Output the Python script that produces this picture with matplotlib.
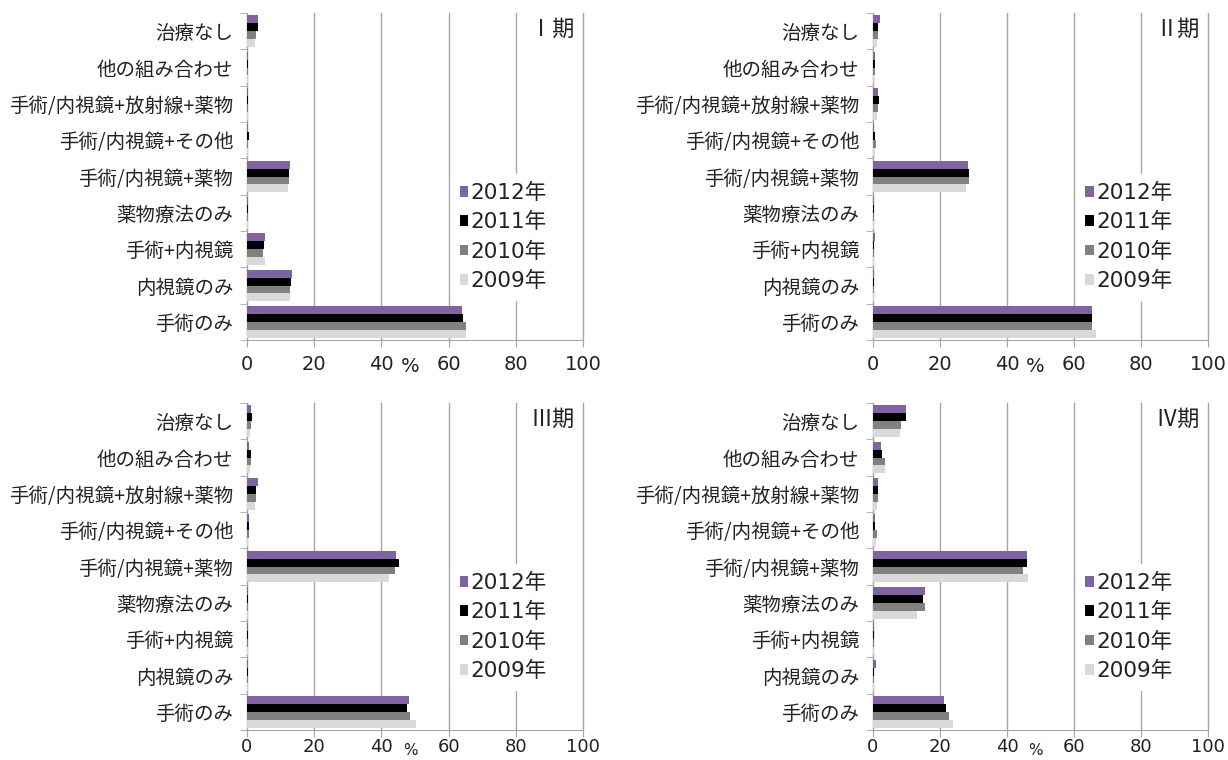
import numpy as np
import matplotlib
matplotlib.use("Agg")
import matplotlib.pyplot as plt
from matplotlib.patches import Patch

plt.rcParams['font.family'] = ['DejaVu Sans', 'Noto Sans CJK JP']
JP = ['Noto Sans CJK JP', 'DejaVu Sans']

# categories listed bottom -> top
categories = ["手術のみ", "内視鏡のみ", "手術+内視鏡", "薬物療法のみ", "手術/内視鏡+薬物",
              "手術/内視鏡+その他", "手術/内視鏡+放射線+薬物", "他の組み合わせ", "治療なし"]
years = ["2012年", "2011年", "2010年", "2009年"]
stages = ["Ⅰ期", "Ⅱ期", "Ⅲ期", "Ⅳ期"]

# stage I (%)
s1_2012 = [63.9, 13.3, 5.3, 0.2, 12.9, 0.3, 0.2, 0.2, 3.3]
s1_2011 = [64.3, 13.2, 5.1, 0.2, 12.4, 0.5, 0.2, 0.2, 3.3]
s1_2010 = [65.3, 12.9, 4.8, 0.2, 12.4, 0.3, 0.2, 0.2, 2.6]
s1_2009 = [65.3, 12.7, 5.3, 0.2, 12.1, 0.3, 0.2, 0.2, 2.3]
# stage II
s2_2012 = [65.3, 0.3, 0.7, 0.3, 28.5, 0.3, 1.6, 0.5, 2.0]
s2_2011 = [65.5, 0.3, 0.3, 0.3, 28.8, 0.7, 1.7, 0.7, 1.4]
s2_2010 = [65.3, 0.3, 0.3, 0.3, 28.8, 1.0, 1.4, 0.7, 1.4]
s2_2009 = [66.5, 0.3, 0.3, 0.3, 27.9, 0.5, 1.3, 0.5, 1.1]
# stage III
s3_2012 = [48.3, 0.2, 0.2, 0.3, 44.3, 0.5, 3.3, 0.7, 1.1]
s3_2011 = [47.5, 0.2, 0.2, 0.2, 45.3, 0.6, 2.6, 1.1, 1.4]
s3_2010 = [48.6, 0.2, 0.2, 0.2, 43.9, 0.5, 2.6, 1.1, 1.1]
s3_2009 = [50.4, 0.2, 0.2, 0.2, 42.4, 0.3, 2.3, 0.8, 1.0]
# stage IV
s4_2012 = [21.1, 1.0, 0.3, 15.4, 46.0, 0.7, 1.5, 2.3, 9.8]
s4_2011 = [21.8, 0.3, 0.3, 14.9, 46.0, 0.7, 1.5, 2.8, 9.8]
s4_2010 = [22.6, 0.3, 0.3, 15.4, 44.8, 1.1, 1.4, 3.5, 8.3]
s4_2009 = [23.9, 0.3, 0.3, 13.1, 46.3, 0.8, 1.3, 3.6, 8.1]

panels = [
    (s1_2012, s1_2011, s1_2010, s1_2009),
    (s2_2012, s2_2011, s2_2010, s2_2009),
    (s3_2012, s3_2011, s3_2010, s3_2009),
    (s4_2012, s4_2011, s4_2010, s4_2009),
]
colors = ["#8064A2", "#000000", "#808080", "#D9D9D9"]
text_c = "#222222"
axis_c = "#A6A6A6"

W, H = 1228, 760
fig = plt.figure(figsize=(W / 100, H / 100), dpi=100)
# axes rectangles in pixels: left, top, right, bottom
rects = [(247, 13, 583, 340), (873, 13, 1208, 340),
         (247, 403, 583, 730), (873, 403, 1208, 730)]

h = 0.22
y = np.arange(len(categories))
for k, (series, (l, t, r, b)) in enumerate(zip(panels, rects)):
    bottom_row = k >= 2
    ax = fig.add_axes([l / W, 1 - b / H, (r - l) / W, (b - t) / H])
    # draw 2009 first so newer years sit above
    for j in range(3, -1, -1):
        ax.barh(y + (1.5 - j) * h, series[j], height=h, color=colors[j], zorder=3)
    ax.set_xlim(0, 100)
    ax.set_ylim(-0.5, len(categories) - 0.5)
    ax.set_xticks([0, 20, 40, 60, 80, 100])
    ax.xaxis.grid(True, color=axis_c, lw=1, zorder=0)
    for gl in ax.get_xgridlines():
        gl.set_clip_on(False)
    ax.set_axisbelow(True)
    for s in ["top", "right"]:
        ax.spines[s].set_visible(False)
    ax.spines["left"].set_color(axis_c)
    ax.spines["bottom"].set_color(axis_c)
    ax.tick_params(axis="x", length=5, color=axis_c, labelsize=14 if not bottom_row else 13,
                   labelcolor=text_c, pad=1 if bottom_row else 6)
    ax.set_yticks(y)
    ax.set_yticklabels(categories, fontsize=14, color=text_c, family=JP)
    ax.tick_params(axis="y", length=0, pad=10)
    ax.set_yticks(np.arange(-0.5, len(categories), 1), minor=True)
    ax.tick_params(axis="y", which="minor", length=5, color=axis_c)
    pct_off = 13 if bottom_row else 17
    ax.text(0.485, -pct_off / (b - t), "%", transform=ax.transAxes, ha="center", va="top",
            fontsize=14 if not bottom_row else 11, color=text_c)
    ax.text(0.975, 0.95, stages[k], transform=ax.transAxes, ha="right", va="center",
            fontsize=16, color=text_c, family=JP)
    handles = [Patch(facecolor=c, edgecolor="none") for c in colors]
    leg = ax.legend(handles, years, loc="center left", bbox_to_anchor=(0.575, 0.315),
                    frameon=True, facecolor="white", edgecolor="white", framealpha=1,
                    fontsize=15.5, handlelength=0.4, handleheight=0.4,
                    handletextpad=0.12, labelspacing=0.42, borderpad=0.4)
    for txt in leg.get_texts():
        txt.set_color(text_c)

fig.savefig("out.png", dpi=100)
